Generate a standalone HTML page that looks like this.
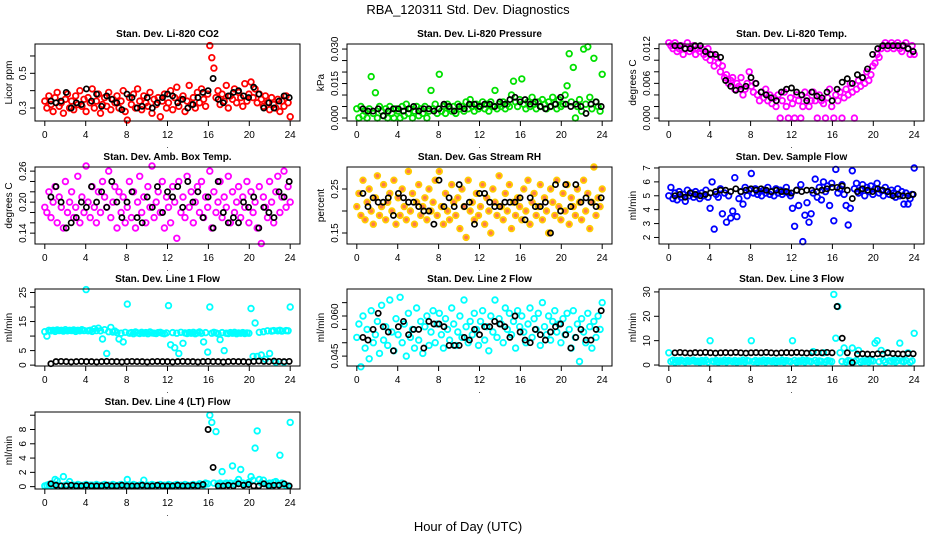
<!DOCTYPE html>
<html><head><meta charset="utf-8"><style>
body{margin:0;background:#fff}
svg{display:block;font-family:"Liberation Sans",sans-serif}
</style></head><body>
<svg id="chart" width="936" height="540" viewBox="0 0 936 540" xmlns="http://www.w3.org/2000/svg">
<rect width="936" height="540" fill="#fff"/>
<text x="468" y="14" font-size="13" text-anchor="middle">RBA_120311  Std. Dev. Diagnostics</text>
<text x="468" y="531" font-size="13" text-anchor="middle">Hour of Day (UTC)</text>
</svg>
<script>
const xTicks=[0,4,8,12,16,20,24];
const xTickLabels=["0","4","8","12","16","20","24"];
const blackStart=0.6, blackEnd=23.9;

const p1Colored=[.34,.30,.37,.32,.28,.36,.39,.31,.33,.27,.35,.38,.30,.34,.29,.37,.32,.40,.31,.35,
.28,.36,.33,.41,.30,.34,.38,.27,.32,.36,.31,.39,.29,.35,.33,.37,.30,.34,.40,.28,
.23,.36,.32,.38,.30,.41,.34,.29,.37,.33,.31,.39,.27,.35,.32,.36,.25,.34,.38,.30,
.33,.40,.29,.36,.42,.31,.35,.37,.28,.34,.43,.32,.36,.30,.39,.33,.41,.35,.31,.38,
.66,.59,.53,.36,.40,.32,.38,.34,.43,.30,.37,.35,.41,.33,.39,.36,.31,.44,.34,.38,
.45,.36,.41,.33,.38,.35,.31,.37,.33,.29,.36,.32,.30,.35,.28,.34,.31,.37,.33,.25];
const p1Black=[.34,.33,.34,.39,.30,.33,.32,.41,.34,.38,.31,.37,.35,.33,.29,.38,.36,.30,.31,.36,.30,.33,.36,.38,.37,.33,.35,.30,.32,.36,.39,.40,.47,.35,.33,.37,.39,.40,.37,.36,.42,.38,.30,.33,.30,.34,.37,.36];
const p1Ticks=[0.3,0.4,0.5,0.6];
const p1TickLabels=["0.3","","0.5",""];

const p2Colored=[.004,.000,.005,.001,.003,.000,.004,.018,.002,.011,.000,.005,.003,.001,.004,.000,.005,.002,.000,.004,
.003,.000,.005,.001,.006,.002,.004,.000,.003,.005,.001,.004,.002,.005,.000,.003,.012,.004,.006,.002,
.019,.003,.005,.002,.006,.004,.003,.005,.002,.006,.004,.005,.003,.007,.004,.008,.005,.003,.006,.004,
.005,.007,.004,.006,.003,.007,.005,.012,.004,.006,.005,.007,.004,.006,.005,.010,.016,.007,.005,.008,
.017,.006,.004,.007,.005,.009,.006,.004,.007,.005,.008,.006,.004,.007,.005,.009,.006,.004,.008,.005,
.006,.010,.014,.028,.007,.022,.000,.005,.008,.003,.030,.006,.031,.009,.004,.026,.007,.005,.003,.019];
const p2Black=[.004,.003,.003,.004,.001,.003,.004,.004,.003,.004,.005,.003,.004,.004,.003,.004,.006,.005,.003,.005,.004,.006,.006,.005,.006,.006,.005,.007,.006,.008,.009,.007,.008,.006,.007,.005,.004,.005,.006,.009,.006,.005,.006,.005,.002,.006,.007,.005];
const p2Ticks=[0,0.005,0.010,0.015,0.020,0.025,0.030];
const p2TickLabels=["0.000","","","0.015","","","0.030"];

const p3Colored=[.013,.0125,.012,.013,.0115,.012,.0125,.011,.012,.013,.0115,.012,.0125,.011,.012,.0115,.012,.011,.0105,.012,
.010,.011,.009,.0105,.0095,.008,.009,.007,.0075,.006,.0065,.007,.005,.006,.0055,.007,.004,.005,.006,.008,
.0055,.0045,.006,.004,.003,.0045,.0035,.005,.003,.004,.0025,.0035,.002,.004,.000,.003,.0045,.002,.000,.0035,
.0025,.000,.004,.003,.000,.002,.0045,.0035,.002,.003,.0045,.003,.000,.004,.003,.0025,.000,.0035,.005,.002,
.000,.004,.003,.0045,.000,.0035,.005,.004,.006,.0045,.000,.005,.0065,.0055,.007,.006,.008,.0065,.0075,.009,
.0095,.011,.0105,.012,.0125,.013,.012,.0125,.013,.012,.0125,.013,.012,.0115,.0125,.013,.012,.011,.0125,.011];
const p3Black=[.0125,.0125,.012,.012,.0125,.0125,.0115,.011,.011,.0105,.0065,.0055,.0048,.0050,.0055,.0070,.0060,.0045,.0040,.0035,.0030,.0045,.0050,.0052,.0045,.0040,.0030,.0045,.0038,.0035,.0045,.0030,.0050,.0062,.0068,.0060,.0075,.0070,.0085,.0110,.0120,.0125,.0125,.0125,.0125,.0125,.012,.0115];
const p3Ticks=[0,0.002,0.004,0.006,0.008,0.010,0.012];
const p3TickLabels=["0.000","","","0.006","","","0.012"];

const p4Colored=[.19,.18,.22,.17,.20,.23,.16,.21,.19,.15,.24,.18,.20,.22,.17,.19,.25,.16,.21,.18,
.27,.20,.17,.23,.19,.16,.22,.18,.24,.21,.19,.26,.17,.20,.23,.15,.22,.18,.21,.16,
.19,.24,.17,.22,.15,.20,.25,.18,.21,.16,.23,.19,.27,.17,.20,.22,.18,.24,.15,.21,
.19,.16,.23,.20,.13,.24,.18,.21,.17,.25,.19,.22,.16,.20,.23,.18,.24,.17,.21,.19,
.26,.15,.22,.18,.20,.24,.17,.21,.19,.25,.16,.22,.18,.20,.23,.17,.21,.19,.24,.16,
.22,.18,.20,.15,.23,.12,.21,.19,.17,.24,.20,.16,.22,.25,.18,.21,.26,.19,.23,.20];
const p4Black=[.21,.23,.20,.15,.16,.17,.20,.19,.23,.20,.22,.19,.24,.20,.17,.20,.22,.17,.16,.21,.19,.23,.18,.22,.21,.23,.19,.24,.20,.22,.17,.21,.15,.24,.18,.16,.17,.16,.20,.19,.21,.15,.19,.18,.17,.22,.21,.24];
const p4Ticks=[0.14,0.16,0.18,0.20,0.22,0.24,0.26];
const p4TickLabels=["0.14","","","0.20","","","0.26"];

const p5Colored=[.21,.24,.19,.27,.18,.22,.25,.20,.17,.23,.28,.19,.21,.26,.18,.22,.24,.20,.27,.17,
.23,.19,.25,.21,.18,.29,.20,.24,.17,.22,.26,.19,.21,.23,.18,.25,.20,.22,.27,.19,
.29,.21,.17,.24,.20,.18,.26,.22,.19,.23,.16,.25,.21,.14,.27,.20,.22,.18,.24,.19,
.21,.26,.17,.23,.20,.15,.25,.22,.19,.28,.21,.18,.24,.20,.26,.16,.22,.19,.23,.21,
.18,.25,.20,.27,.17,.22,.24,.19,.21,.26,.18,.23,.20,.15,.25,.22,.19,.27,.21,.18,
.24,.20,.26,.17,.23,.21,.19,.25,.22,.18,.27,.20,.24,.16,.22,.30,.19,.23,.21,.25];
const p5Black=[.24,.21,.23,.22,.22,.23,.19,.24,.23,.22,.22,.21,.20,.20,.17,.27,.21,.23,.21,.26,.21,.22,.17,.24,.24,.22,.21,.21,.22,.22,.22,.23,.18,.23,.21,.21,.22,.15,.26,.20,.26,.21,.26,.22,.23,.22,.21,.23];
const p5Ticks=[0.15,0.20,0.25];
const p5TickLabels=["0.15","","0.25"];

const p6Colored=[5.0,5.6,4.8,5.2,4.7,5.3,4.9,5.1,4.6,5.4,5.0,5.2,4.9,5.3,5.1,4.8,5.2,5.0,5.4,4.9,
4.1,6.0,2.6,5.1,4.9,5.5,3.7,5.2,3.1,5.0,3.4,3.9,6.3,3.5,4.8,5.3,4.4,5.6,5.0,5.4,
6.6,5.2,5.5,5.1,5.3,5.0,5.4,5.2,5.6,5.1,5.3,5.0,5.5,5.2,5.4,5.1,5.3,5.6,5.2,5.0,
4.1,2.8,5.4,4.3,5.8,1.7,3.6,4.5,3.1,3.7,5.2,6.2,4.9,5.6,4.7,6.0,5.3,5.7,4.3,5.9,
3.2,6.9,5.2,5.5,5.8,5.1,4.3,2.9,4.1,6.8,5.5,5.9,5.2,5.4,5.8,5.0,5.6,5.3,5.7,5.1,
5.5,5.9,5.2,5.4,5.0,5.6,5.3,5.1,5.4,5.2,4.9,5.5,5.0,5.3,4.4,5.2,4.4,4.8,5.1,7.0];
const p6Black=[5.0,5.1,4.9,5.2,5.1,5.0,5.1,5.2,5.3,5.4,5.4,5.3,5.5,5.3,5.4,5.5,5.4,5.5,5.4,5.3,5.4,5.3,5.3,5.2,5.4,5.3,5.4,5.4,5.3,5.4,5.5,5.6,5.6,5.7,5.4,4.8,5.3,5.5,5.4,5.3,5.5,5.4,5.3,5.0,5.1,5.0,5.0,5.1];
const p6Ticks=[2,3,4,5,6,7];
const p6TickLabels=["2","3","4","5","6","7"];

const p7Colored=[11.5,10,12,11.8,12,11.6,12.1,11.9,12,11.7,12.2,11.8,12,11.9,12.1,11.6,12,11.8,12.2,11.9,
26,11.8,12,11.6,12.5,11.9,12.7,11.8,9,12.2,4,11.5,13,11.4,11.7,11.2,9,11,8,11.3,
21,11,11.2,10.8,11.4,11.1,10.9,11.3,11,11.2,10.8,11.4,11.1,11,10.9,11.2,11.3,11,10.8,11.1,
20.5,7,11.2,6,11,4,11.3,7.5,11.1,10.9,11.2,11,11.3,10.8,11.1,11.4,11,8,11.2,4.5,
20,11,11.3,11.1,10.8,8.8,11.2,5,11,10.9,11.2,11,11.3,10.8,11.1,11,11.2,10.9,11.1,11,
19.5,3,14.5,3,11.3,3.5,11.5,2,11.8,4,11.7,11.9,1,11.8,12,11.7,1,11.9,11.8,20];
const p7Black=[0.5,1.2,1.3,1.2,1.1,1.2,1.3,1.2,1.2,1.1,1.2,1.3,1.2,1.2,1.1,1.2,1.3,1.2,1.2,1.1,1.2,1.3,1.2,1.2,1.1,1.2,1.3,1.2,1.2,1.1,1.2,1.3,1.2,1.2,1.1,1.2,1.3,1.2,1.2,1.1,1.3,1.4,1.3,1.2,1.4,1.3,1.2,1.3];
const p7Ticks=[0,5,10,15,20,25];
const p7TickLabels=["0","5","","15","","25"];

const p8Colored=[.052,.057,.041,.060,.048,.055,.044,.062,.050,.053,.058,.046,.064,.051,.056,.049,.066,.054,.047,.059,
.053,.067,.050,.057,.045,.061,.052,.055,.048,.063,.051,.058,.046,.056,.060,.049,.054,.062,.050,.057,
.061,.053,.048,.059,.055,.051,.063,.057,.049,.054,.060,.052,.066,.056,.050,.058,.053,.061,.055,.049,
.058,.062,.051,.056,.047,.060,.054,.066,.052,.059,.057,.050,.063,.055,.061,.053,.058,.048,.062,.056,
.060,.054,.050,.057,.063,.052,.059,.055,.061,.049,.065,.056,.053,.060,.051,.058,.062,.054,.057,.050,
.059,.053,.061,.055,.048,.062,.052,.057,.043,.059,.054,.050,.061,.056,.048,.058,.052,.060,.055,.065];
const p8Black=[.052,.051,.055,.061,.056,.054,.047,.056,.058,.053,.055,.055,.048,.058,.057,.057,.056,.049,.049,.049,.052,.051,.055,.053,.056,.056,.058,.057,.056,.052,.060,.054,.051,.050,.055,.053,.051,.054,.056,.057,.053,.048,.052,.055,.051,.051,.055,.062];
const p8Ticks=[0.045,0.050,0.055,0.060,0.065];
const p8TickLabels=["0.045","","","0.060",""];

const p9Colored=[5,1.5,2,1.2,1.8,1.4,2,1.6,1.3,1.9,1.5,1.7,2,1.4,1.6,1.2,1.8,1.5,2,1.3,
10,1.6,1.4,1.9,1.2,1.7,1.5,2,1.3,1.8,1.6,1.4,1.9,1.2,1.7,1.5,2,1.3,1.8,1.6,
10,1.4,1.9,1.2,1.7,1.5,2,1.3,1.8,1.6,1.4,1.9,1.2,1.7,1.5,2,1.3,1.8,1.6,1.4,
10,1.9,1.2,1.7,1.5,2,1.3,1.8,1.6,1.4,5.5,1.9,1.2,1.7,1.5,5,1.3,1.8,1.6,1.4,
29,11,24,5,1.5,7,1.3,1.8,1.6,7,1.4,1.9,6,1.2,1.7,1.5,2,1.3,1.8,1.6,
9,10,1.4,6,1.9,1.2,5,1.7,1.5,2,1.3,1.8,9,1.6,1.4,1.9,5,1.2,1.7,13];
const p9Black=[5,5.2,5,4.9,5.1,5,5.2,5,4.9,5,5.1,5,5.2,5,4.9,5,5.1,5,5.2,5,4.9,5,5.1,5,5.2,5,4.9,5,5.1,5,5.2,5,24,11,5,1,4.5,4.6,4.5,4.4,4.6,4.5,5,4.7,4.6,4.5,4.7,4.6];
const p9Ticks=[0,10,20,30];
const p9TickLabels=["0","10","20","30"];

const p10Colored=[0.1,0.2,0.3,0.1,0.2,1,0.8,0.2,0.1,1.4,0.2,0.3,0.7,0.1,0.2,0.1,0.3,0.2,0.1,0.2,
0.3,0.1,0.2,0.2,0.1,0.3,0.2,0.1,0.2,0.3,0.1,0.2,0.1,0.3,0.2,0.1,0.2,0.3,0.1,0.2,
1,0.2,0.1,0.3,0.2,0.1,0.2,0.3,0.9,0.1,0.2,0.1,0.3,0.2,0.1,0.2,0.3,0.1,0.2,0.1,
0.3,0.2,0.1,0.2,0.3,0.1,0.2,0.1,0.3,0.2,0.1,0.2,0.3,0.1,0.2,0.4,0.3,0.2,0.5,0.4,
10,9,0.5,7.7,0.4,0.5,2.1,0.4,0.5,0.3,0.5,2.9,0.4,0.6,1,2.4,0.5,0.3,0.4,0.6,
1.4,0.9,5.4,7.8,1,0.5,0.9,0.4,0.3,0.5,0.2,0.6,0.7,0.4,4.4,0.5,0.3,0.2,0.1,9];
const p10Black=[0.4,0.2,0.1,0.1,0.2,0.1,0.1,0.2,0.1,0.1,0.1,0.2,0.1,0.1,0.2,0.1,0.1,0.1,0.2,0.1,0.1,0.2,0.1,0.1,0.1,0.2,0.1,0.1,0.2,0.1,0.3,8,2.7,0.1,0.1,0.2,0.1,0.4,0.2,0.3,0.1,0.1,0.4,0.1,0.2,0.2,0.4,0.1];
const p10Ticks=[0,2,4,6,8,10];
const p10TickLabels=["0","2","4","6","8",""];

const NS="http://www.w3.org/2000/svg";
const svg=document.getElementById('chart');
function mk(tag,attrs,parent){const e=document.createElementNS(NS,tag);for(const k in attrs)e.setAttribute(k,attrs[k]);(parent||svg).appendChild(e);return e;}

const panels=[
 {id:'co2',title:'Stan. Dev. Li-820 CO2',yt:'Licor ppm',col:0,row:0,ymin:0.225,ymax:0.669,c:p1Colored,b:p1Black,t:p1Ticks,tl:p1TickLabels,color:'#ff0000'},
 {id:'pressure',title:'Stan. Dev. Li-820 Pressure',yt:'kPa',col:1,row:0,ymin:-0.0013,ymax:0.0322,c:p2Colored,b:p2Black,t:p2Ticks,tl:p2TickLabels,color:'#00e000'},
 {id:'li820-temp',title:'Stan. Dev. Li-820 Temp.',yt:'degrees C',col:2,row:0,ymin:-0.0005,ymax:0.0128,c:p3Colored,b:p3Black,t:p3Ticks,tl:p3TickLabels,color:'#ff00ff'},
 {id:'amb-box-temp',title:'Stan. Dev. Amb. Box Temp.',yt:'degrees C',col:0,row:1,ymin:0.119,ymax:0.268,c:p4Colored,b:p4Black,t:p4Ticks,tl:p4TickLabels,color:'#ff00ff'},
 {id:'gas-stream-rh',title:'Stan. Dev. Gas Stream RH',yt:'percent',col:1,row:1,ymin:0.125,ymax:0.30,c:p5Colored,b:p5Black,t:p5Ticks,tl:p5TickLabels,color:'#ffcc00',fill:'#ff4000'},
 {id:'sample-flow',title:'Stan. Dev. Sample Flow',yt:'ml/min',col:2,row:1,ymin:1.53,ymax:7.07,c:p6Colored,b:p6Black,t:p6Ticks,tl:p6TickLabels,color:'#0000ff'},
 {id:'line1-flow',title:'Stan. Dev. Line 1 Flow',yt:'ml/min',col:0,row:2,ymin:-0.3,ymax:26.2,c:p7Colored,b:p7Black,t:p7Ticks,tl:p7TickLabels,color:'#00ffff'},
 {id:'line2-flow',title:'Stan. Dev. Line 2 Flow',yt:'ml/min',col:1,row:2,ymin:0.0413,ymax:0.0701,c:p8Colored,b:p8Black,t:p8Ticks,tl:p8TickLabels,color:'#00ffff'},
 {id:'line3-flow',title:'Stan. Dev. Line 3 Flow',yt:'ml/min',col:2,row:2,ymin:-0.4,ymax:31.2,c:p9Colored,b:p9Black,t:p9Ticks,tl:p9TickLabels,color:'#00ffff'},
 {id:'line4-flow',title:'Stan. Dev. Line 4 (LT) Flow',yt:'ml/min',col:0,row:3,ymin:-0.33,ymax:10.45,c:p10Colored,b:p10Black,t:p10Ticks,tl:p10TickLabels,color:'#00ffff'}
];
const colLeft=[35,347,659], rowTop=[44,167,289,412], W=265, H=77;

panels.forEach(p=>{
  const L=colLeft[p.col], T=rowTop[p.row], B=T+H;
  const g=mk('g',{});
  
  
  const xs=v=>L+(v+0.96)/25.92*W;
  const ys=v=>B-(v-p.ymin)/(p.ymax-p.ymin)*H;
  const n=p.c.length;
  p.c.forEach((v,i)=>{
    const hr=i*24/(n-1);
    const c=mk('circle',{cx:xs(hr).toFixed(1),cy:ys(v).toFixed(1),r:2.8,fill:p.fill||'none','fill-opacity':p.fill?0.7:1,stroke:p.color,'stroke-width':1.8},g);
    
    
  });
  const m=p.b.length;
  p.b.forEach((v,i)=>{
    const hr=blackStart+i*(blackEnd-blackStart)/(m-1);
    const c=mk('circle',{cx:xs(hr).toFixed(1),cy:ys(v).toFixed(1),r:2.6,fill:'none',stroke:'#000','stroke-width':1.7},g);
    
    
  });
  const box=mk('rect',{x:L,y:T,width:W,height:H,fill:'none',stroke:'#000','stroke-width':1},g);
  
  
  xTicks.forEach((t,i)=>{
    const x=xs(t);
    mk('line',{x1:x,y1:B,x2:x,y2:B+5,stroke:'#000'},g);
    const tx=mk('text',{x:x,y:B+17,'font-size':10,'text-anchor':'middle'},g);
    tx.textContent=xTickLabels[i];
    
    
  });
  const dot=mk('text',{x:L+W/2,y:B+27,'font-size':8,'text-anchor':'middle'},g);
  dot.textContent='.';
  p.t.forEach((t,i)=>{
    const y=ys(t);
    mk('line',{x1:L,y1:y,x2:L-5,y2:y,stroke:'#000'},g);
    if(p.tl[i]){
      const tx=mk('text',{x:0,y:0,'font-size':10,'text-anchor':'middle',transform:`translate(${L-9},${y}) rotate(-90)`},g);
      tx.textContent=p.tl[i];
      
      
    }
  });
  const yt=mk('text',{x:0,y:0,'font-size':10,'text-anchor':'middle',transform:`translate(${L-23},${T+H/2}) rotate(-90)`},g);
  yt.textContent=p.yt;
  
  
  const ti=mk('text',{x:L+W/2,y:T-7,'font-size':10,'font-weight':'bold','text-anchor':'middle'},g);
  ti.textContent=p.title;
  
  
});
</script>
</body></html>
